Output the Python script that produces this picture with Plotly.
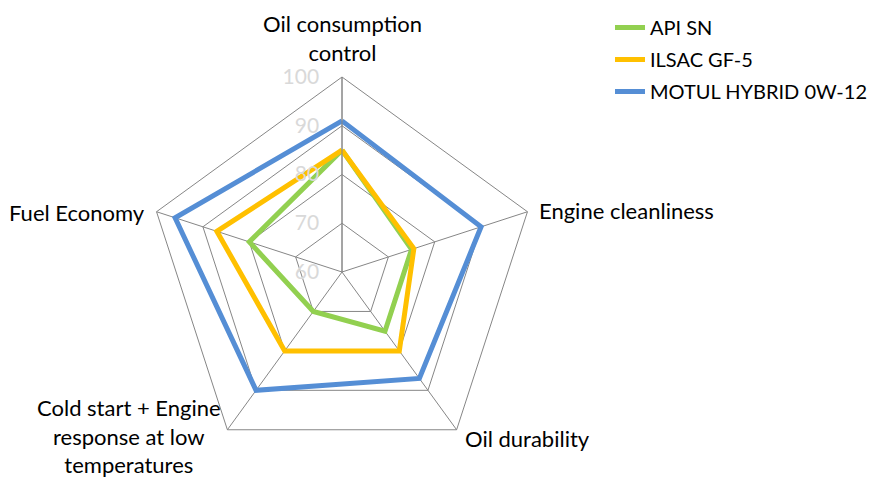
import plotly.graph_objects as go

categories = ["Oil consumption<br>control", "Engine cleanliness", "Oil durability",
              "Cold start + Engine<br>response at low<br>temperatures", "Fuel Economy"]
api_sn = [85, 75, 75, 70, 80]
ilsac_gf5 = [85, 75.5, 80, 80, 87]
motul = [91, 90, 87, 90, 96]
radial_ticks = [60, 70, 80, 90, 100]

series = [("API SN", api_sn, "#92D050"),
          ("ILSAC GF-5", ilsac_gf5, "#FFC000"),
          ("MOTUL HYBRID 0W-12", motul, "#558ED5")]

W, H = 875, 480
OFF = 8  # page body margin offset
FONT = "Lato"

def px_x(x):
    return (x - OFF) / W

def px_y(y):
    return 1 - (y - OFF) / H

fig = go.Figure()
for name, vals, color in series:
    fig.add_trace(go.Scatterpolar(
        r=vals + vals[:1], theta=categories + categories[:1], name=name,
        legendgroup=name,
        mode="lines", line=dict(color=color, width=5), cliponaxis=False))

# category label placement (page pixel position, anchors)
label_pos = [(342, 38, "center", "middle"),
             (537, 210, "left", "middle"),
             (463, 438, "left", "middle"),
             (129, 436, "center", "middle"),
             (147, 212, "right", "middle")]
for text, (px, py, xa, ya) in zip(categories, label_pos):
    fig.add_annotation(x=px_x(px), y=px_y(py), xref="paper", yref="paper",
                       text=text, showarrow=False, xanchor=xa, yanchor=ya,
                       align="center", font=dict(family=FONT, size=22, color="black"))

cx, cy, R = 342, 272, 195
fig.update_layout(
    width=W, height=H,
    margin=dict(l=0, r=0, t=0, b=0),
    paper_bgcolor="white", plot_bgcolor="white",
    font=dict(family=FONT, size=20, color="black"),
    polar=dict(
        domain=dict(x=[px_x(cx - R), px_x(cx + R)], y=[px_y(cy + R), px_y(cy - R)]),
        bgcolor="white",
        gridshape="linear",
        angularaxis=dict(rotation=90, direction="clockwise",
                         showline=True, linecolor="#868686", linewidth=1,
                         gridcolor="#868686", gridwidth=1, ticks="",
                         showticklabels=False),
        radialaxis=dict(range=[60, 100], tickvals=radial_ticks, angle=90,
                        side="counterclockwise", showline=True,
                        linecolor="#868686", gridcolor="#868686", gridwidth=1,
                        ticks="outside", ticklen=15, tickcolor="rgba(0,0,0,0)",
                        tickangle=90,
                        tickfont=dict(family=FONT, size=21, color="#D9D9D9")),
    ),
    legend=dict(x=px_x(610), y=1.0, xanchor="left", yanchor="top",
                font=dict(family=FONT, size=20, color="black"),
                tracegroupgap=3, itemwidth=30),
    showlegend=True,
)
fig.write_html("out.html")
